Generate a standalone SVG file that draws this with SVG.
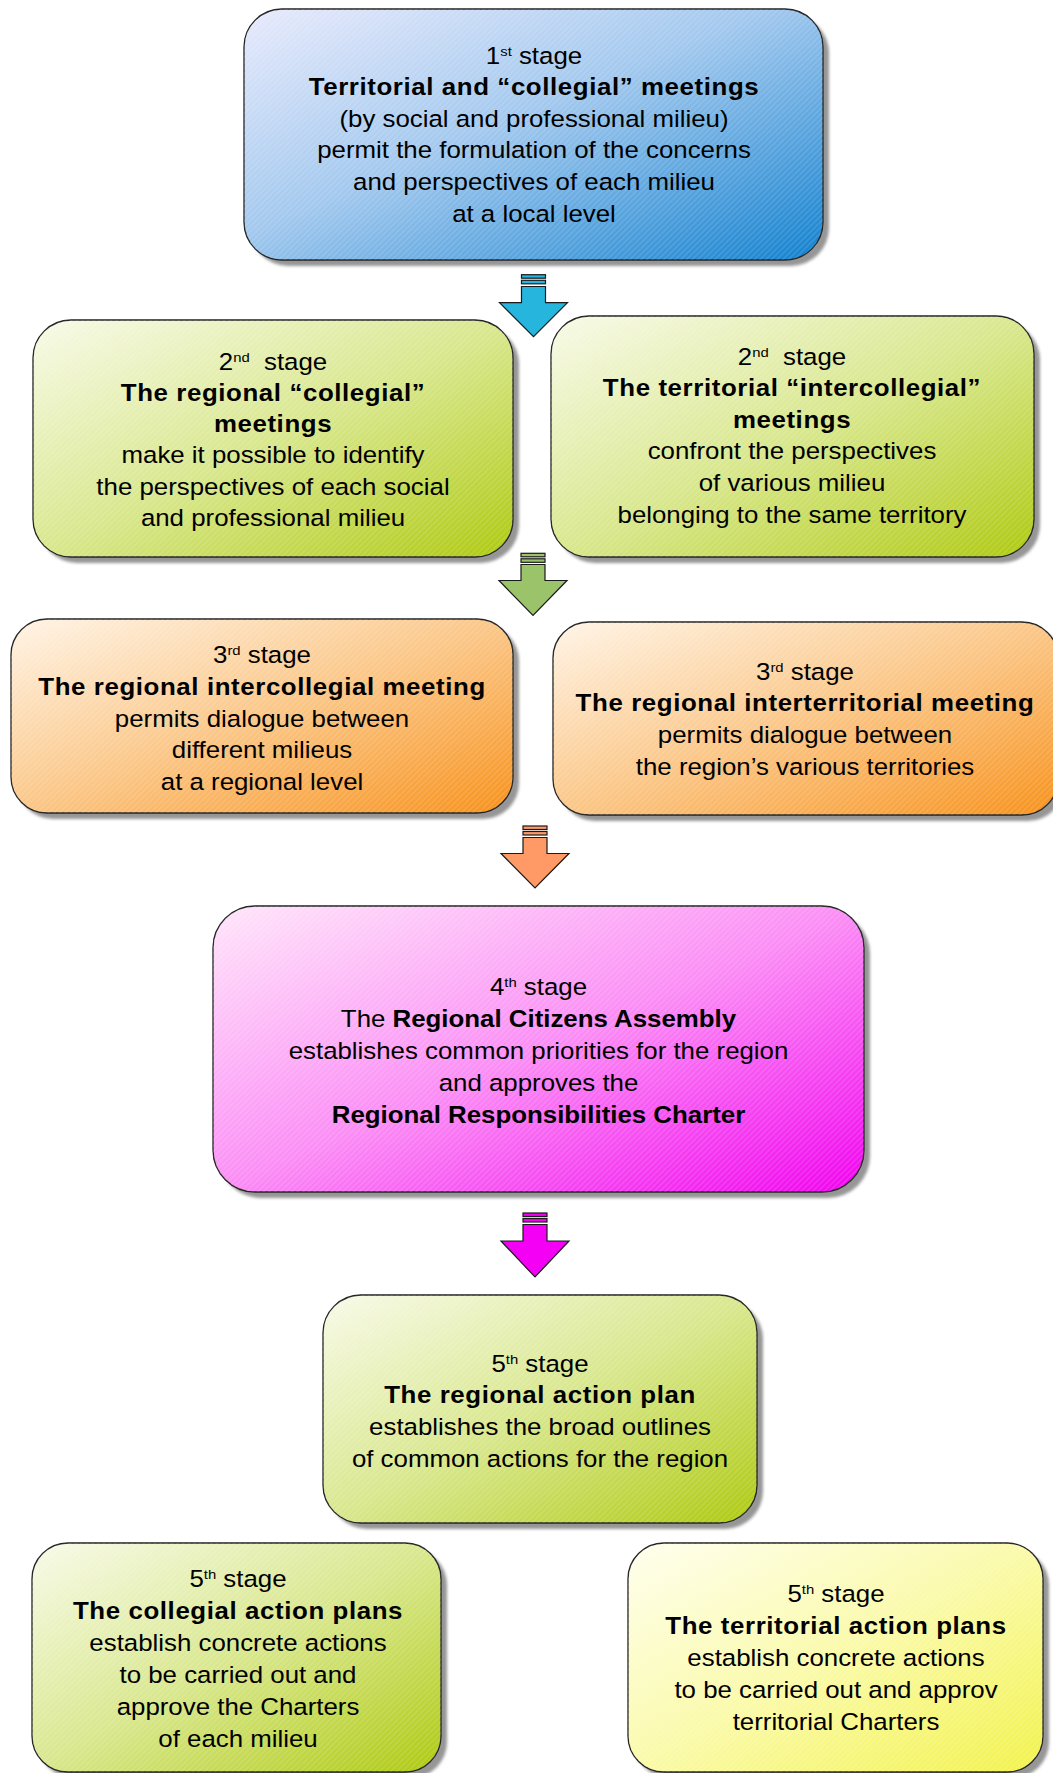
<svg xmlns="http://www.w3.org/2000/svg" width="1053" height="1773" viewBox="0 0 1053 1773">
<style>
.t{font-family:"Liberation Sans",Arial,sans-serif;font-size:23.5px;fill:#000;text-anchor:middle}
.b{font-weight:bold;letter-spacing:0.55px}
.bn{font-weight:bold}
.sup{font-size:13.5px}
.pre{white-space:pre}
.box{stroke:#222;stroke-width:1.3}
.shadow{fill:#969696;filter:url(#blur)}
.hatch{fill:url(#hatch);stroke:none}
.arr{stroke:#1a1a1a;stroke-width:1.2}
</style>
<defs>
<filter id="blur" x="-5%" y="-5%" width="110%" height="110%"><feGaussianBlur stdDeviation="1.6"/></filter>
<pattern id="hatch" width="4" height="4" patternUnits="userSpaceOnUse" patternTransform="rotate(45)">
<line x1="1" y1="0" x2="1" y2="4" stroke="#ffffff" stroke-width="1" stroke-opacity="0.22"/>
</pattern>
<linearGradient id="gBlue" x1="0" y1="0" x2="1" y2="1">
<stop offset="0" stop-color="#E8EAFC"/><stop offset="0.45" stop-color="#A2C8EE"/><stop offset="1" stop-color="#1080CE"/>
</linearGradient>
<linearGradient id="gGreen" x1="0" y1="0" x2="1" y2="1">
<stop offset="0" stop-color="#F8FAE8"/><stop offset="0.5" stop-color="#D8E78C"/><stop offset="1" stop-color="#AEC90E"/>
</linearGradient>
<linearGradient id="gOrange" x1="0" y1="0" x2="1" y2="1">
<stop offset="0" stop-color="#FFF4E6"/><stop offset="0.5" stop-color="#FBC686"/><stop offset="1" stop-color="#F7911A"/>
</linearGradient>
<linearGradient id="gMagenta" x1="0" y1="0" x2="1" y2="1">
<stop offset="0" stop-color="#FFE6FA"/><stop offset="0.5" stop-color="#FB8CF5"/><stop offset="1" stop-color="#F000EE"/>
</linearGradient>
<linearGradient id="gYellow" x1="0" y1="0" x2="1" y2="1">
<stop offset="0" stop-color="#FFFFEE"/><stop offset="0.5" stop-color="#FAFAA8"/><stop offset="1" stop-color="#F2F24A"/>
</linearGradient>
</defs>
<rect width="1053" height="1773" fill="#ffffff"/>

<g id="connectors">
<g id="arrow1" fill="#26B5DD" class="arr">
<rect x="521.5" y="274.7" width="24" height="3.5"/>
<rect x="521.5" y="280.3" width="24" height="3.5"/>
<polygon points="521.5,286.5 545.5,286.5 545.5,302.7 567.5,302.7 533.5,336.7 499.5,302.7 521.5,302.7"/>
</g>
<g id="arrow2" fill="#9BC36A" class="arr">
<rect x="521" y="553.3" width="24" height="3.5"/>
<rect x="521" y="558.8" width="24" height="3.5"/>
<polygon points="521,564.5 545,564.5 545,580.5 567,580.5 533,615.5 499,580.5 521,580.5"/>
</g>
<g id="arrow3" fill="#FF9A66" class="arr">
<rect x="523" y="826" width="24" height="3.5"/>
<rect x="523" y="831.5" width="24" height="3.5"/>
<polygon points="523,837.5 547,837.5 547,853.5 569,853.5 535,888 501,853.5 523,853.5"/>
</g>
<g id="arrow4" fill="#F400F4" class="arr">
<rect x="523" y="1213" width="24" height="3.5"/>
<rect x="523" y="1218.5" width="24" height="3.5"/>
<polygon points="523,1224.5 547,1224.5 547,1241 569,1241 535,1277 501,1241 523,1241"/>
</g>
</g>

<g id="stage1">
<rect class="shadow" x="250" y="15" width="579" height="251" rx="38"/>
<rect class="box" x="244" y="9" width="579" height="251" rx="38" fill="url(#gBlue)"/>
<rect class="hatch" x="244" y="9" width="579" height="251" rx="38"/>
<g transform="translate(534 0) scale(1.1 1)">
<text class="t" y="64">1<tspan class="sup" dy="-8">st</tspan><tspan dy="8"> stage</tspan></text>
<text class="t b" y="95">Territorial and “collegial” meetings</text>
<text class="t" y="127">(by social and professional milieu)</text>
<text class="t" y="158">permit the formulation of the concerns</text>
<text class="t" y="190">and perspectives of each milieu</text>
<text class="t" y="222">at a local level</text>
</g>
</g>

<g id="stage2-regional">
<rect class="shadow" x="39" y="326" width="480" height="237" rx="38"/>
<rect class="box" x="33" y="320" width="480" height="237" rx="38" fill="url(#gGreen)"/>
<rect class="hatch" x="33" y="320" width="480" height="237" rx="38"/>
<g transform="translate(273 0) scale(1.1 1)">
<text class="t pre" y="370">2<tspan class="sup" dy="-8">nd</tspan><tspan dy="8">  stage</tspan></text>
<text class="t b" y="401">The regional “collegial”</text>
<text class="t b" y="432">meetings</text>
<text class="t" y="463">make it possible to identify</text>
<text class="t" y="495">the perspectives of each social</text>
<text class="t" y="526">and professional milieu</text>
</g>
</g>

<g id="stage2-territorial">
<rect class="shadow" x="557" y="322" width="483" height="241" rx="38"/>
<rect class="box" x="551" y="316" width="483" height="241" rx="38" fill="url(#gGreen)"/>
<rect class="hatch" x="551" y="316" width="483" height="241" rx="38"/>
<g transform="translate(792 0) scale(1.1 1)">
<text class="t pre" y="365">2<tspan class="sup" dy="-8">nd</tspan><tspan dy="8">  stage</tspan></text>
<text class="t b" y="396">The territorial “intercollegial”</text>
<text class="t b" y="428">meetings</text>
<text class="t" y="459">confront the perspectives</text>
<text class="t" y="491">of various milieu</text>
<text class="t" y="523">belonging to the same territory</text>
</g>
</g>

<g id="stage3-intercollegial">
<rect class="shadow" x="17" y="625" width="502" height="194" rx="36"/>
<rect class="box" x="11" y="619" width="502" height="194" rx="36" fill="url(#gOrange)"/>
<rect class="hatch" x="11" y="619" width="502" height="194" rx="36"/>
<g transform="translate(262 0) scale(1.1 1)">
<text class="t" y="663">3<tspan class="sup" dy="-8">rd</tspan><tspan dy="8"> stage</tspan></text>
<text class="t b" y="695">The regional intercollegial meeting</text>
<text class="t" y="727">permits dialogue between</text>
<text class="t" y="758">different milieus</text>
<text class="t" y="790">at a regional level</text>
</g>
</g>

<g id="stage3-interterritorial">
<rect class="shadow" x="559" y="628" width="505" height="193" rx="36"/>
<rect class="box" x="553" y="622" width="505" height="193" rx="36" fill="url(#gOrange)"/>
<rect class="hatch" x="553" y="622" width="505" height="193" rx="36"/>
<g transform="translate(805 0) scale(1.1 1)">
<text class="t" y="680">3<tspan class="sup" dy="-8">rd</tspan><tspan dy="8"> stage</tspan></text>
<text class="t b" y="711">The regional interterritorial meeting</text>
<text class="t" y="743">permits dialogue between</text>
<text class="t" y="775">the region’s various territories</text>
</g>
</g>

<g id="stage4">
<rect class="shadow" x="219" y="912" width="651" height="286" rx="42"/>
<rect class="box" x="213" y="906" width="651" height="286" rx="42" fill="url(#gMagenta)"/>
<rect class="hatch" x="213" y="906" width="651" height="286" rx="42"/>
<g transform="translate(538.5 0) scale(1.1 1)">
<text class="t" y="995">4<tspan class="sup" dy="-8">th</tspan><tspan dy="8"> stage</tspan></text>
<text class="t" y="1027">The <tspan class="bn">Regional Citizens Assembly</tspan></text>
<text class="t" y="1059">establishes common priorities for the region</text>
<text class="t" y="1091">and approves the</text>
<text class="t bn" y="1123">Regional Responsibilities Charter</text>
</g>
</g>

<g id="stage5-regional">
<rect class="shadow" x="329" y="1301" width="434" height="228" rx="38"/>
<rect class="box" x="323" y="1295" width="434" height="228" rx="38" fill="url(#gGreen)"/>
<rect class="hatch" x="323" y="1295" width="434" height="228" rx="38"/>
<g transform="translate(540 0) scale(1.1 1)">
<text class="t" y="1372">5<tspan class="sup" dy="-8">th</tspan><tspan dy="8"> stage</tspan></text>
<text class="t b" y="1403">The regional action plan</text>
<text class="t" y="1435">establishes the broad outlines</text>
<text class="t" y="1467">of common actions for the region</text>
</g>
</g>

<g id="stage5-collegial">
<rect class="shadow" x="38" y="1549" width="409" height="229" rx="36"/>
<rect class="box" x="32" y="1543" width="409" height="229" rx="36" fill="url(#gGreen)"/>
<rect class="hatch" x="32" y="1543" width="409" height="229" rx="36"/>
<g transform="translate(238 0) scale(1.1 1)">
<text class="t" y="1587">5<tspan class="sup" dy="-8">th</tspan><tspan dy="8"> stage</tspan></text>
<text class="t b" y="1619">The collegial action plans</text>
<text class="t" y="1651">establish concrete actions</text>
<text class="t" y="1683">to be carried out and</text>
<text class="t" y="1715">approve the Charters</text>
<text class="t" y="1747">of each milieu</text>
</g>
</g>

<g id="stage5-territorial">
<rect class="shadow" x="634" y="1549" width="415" height="229" rx="36"/>
<rect class="box" x="628" y="1543" width="415" height="229" rx="36" fill="url(#gYellow)"/>
<rect class="hatch" x="628" y="1543" width="415" height="229" rx="36"/>
<g transform="translate(836 0) scale(1.1 1)">
<text class="t" y="1602">5<tspan class="sup" dy="-8">th</tspan><tspan dy="8"> stage</tspan></text>
<text class="t b" y="1634">The territorial action plans</text>
<text class="t" y="1666">establish concrete actions</text>
<text class="t" y="1698">to be carried out and approv</text>
<text class="t" y="1730">territorial Charters</text>
</g>
</g>
</svg>
